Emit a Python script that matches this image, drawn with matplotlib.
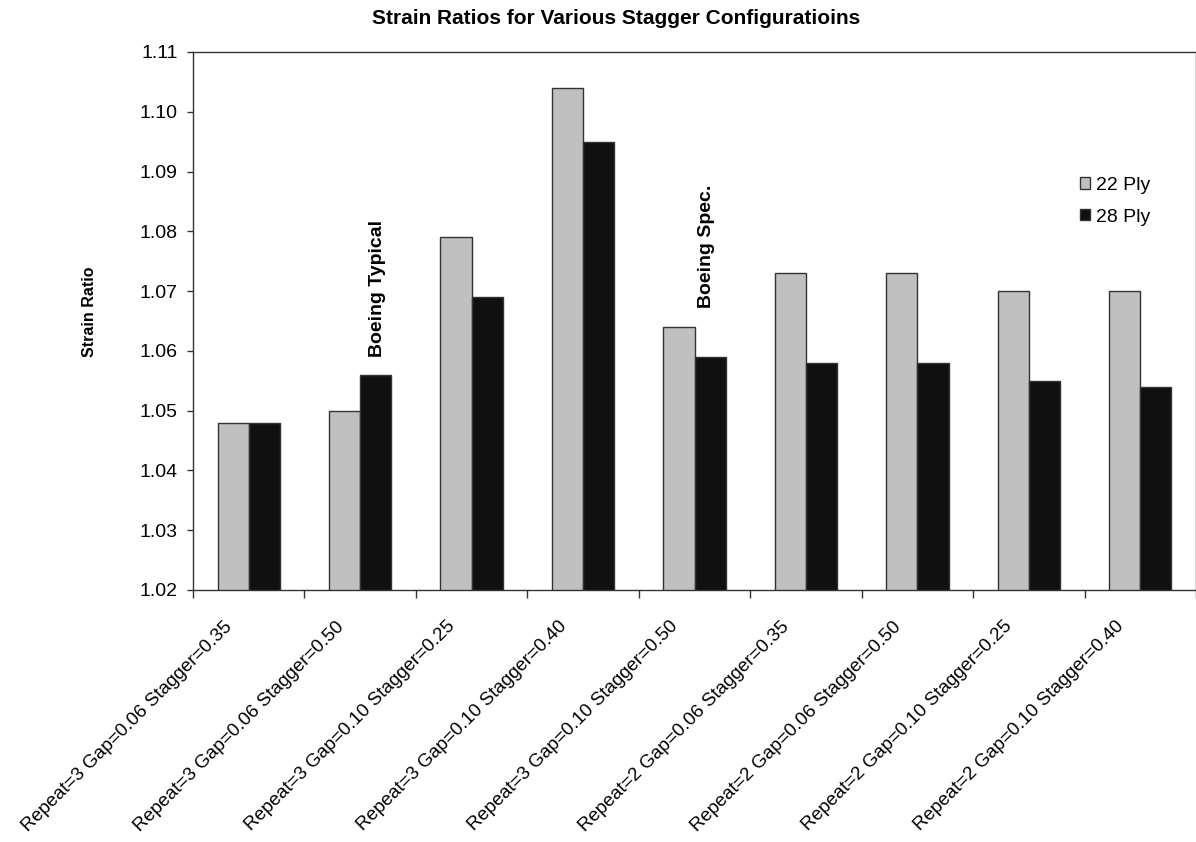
import numpy as np
import matplotlib.pyplot as plt
import matplotlib.transforms as mtransforms
from matplotlib.patches import Patch

plt.rcParams['font.family'] = ['Liberation Sans', 'DejaVu Sans']

configs = [
    'Repeat=3 Gap=0.06 Stagger=0.35',
    'Repeat=3 Gap=0.06 Stagger=0.50',
    'Repeat=3 Gap=0.10 Stagger=0.25',
    'Repeat=3 Gap=0.10 Stagger=0.40',
    'Repeat=3 Gap=0.10 Stagger=0.50',
    'Repeat=2 Gap=0.06 Stagger=0.35',
    'Repeat=2 Gap=0.06 Stagger=0.50',
    'Repeat=2 Gap=0.10 Stagger=0.25',
    'Repeat=2 Gap=0.10 Stagger=0.40',
]
ply22 = [1.048, 1.050, 1.079, 1.104, 1.064, 1.073, 1.073, 1.070, 1.070]
ply28 = [1.048, 1.056, 1.069, 1.095, 1.059, 1.058, 1.058, 1.055, 1.054]
y_ticks = [1.02, 1.03, 1.04, 1.05, 1.06, 1.07, 1.08, 1.09, 1.10, 1.11]

fig = plt.figure(figsize=(11.96, 8.42), dpi=100)
ax = fig.add_axes([193 / 1196, 1 - 590 / 842, 1 - 193 / 1196, (590 - 52) / 842])

x = np.arange(len(configs))
w = 0.28
ax.bar(x - w / 2, ply22, w, bottom=0, color='#c0c0c0', edgecolor='#333333', linewidth=1.0)
ax.bar(x + w / 2, ply28, w, bottom=0, color='#101010', edgecolor='#333333', linewidth=1.0)

ax.set_ylim(1.02, 1.11)
ax.set_xlim(-0.5, len(configs) - 0.5)
ax.set_yticks(y_ticks)
ax.set_yticklabels(['%.2f' % v for v in y_ticks], fontsize=14)

# category labels at bar groups, boundary ticks in between
ax.set_xticks(x)
ax.set_xticklabels(configs, rotation=45, ha='right', va='center',
                   rotation_mode='anchor', fontsize=13.6)
ax.tick_params(axis='x', which='major', length=0, pad=0)
ax.set_xticks(np.arange(len(configs) + 1) - 0.5, minor=True)
ax.tick_params(axis='x', which='minor', length=5.5, width=1.0, color='#333333')
ax.tick_params(axis='y', length=4.5, width=1.0, color='#333333', pad=6.5)
offset = mtransforms.ScaledTranslation(-0.19, -0.34, fig.dpi_scale_trans)
for lbl in ax.get_xticklabels():
    lbl.set_transform(lbl.get_transform() + offset)

for side in ['left', 'top', 'bottom', 'right']:
    ax.spines[side].set_color('#333333')
    ax.spines[side].set_linewidth(1.0)

ax.text(1.16, 1.059, 'Boeing Typical', rotation=90, ha='center', va='bottom',
        fontsize=14, fontweight='bold')
ax.text(4.11, 1.0672, 'Boeing Spec.', rotation=90, ha='center', va='bottom',
        fontsize=14, fontweight='bold')

ax.set_ylabel('Strain Ratio', fontsize=11.5, fontweight='bold')
ax.yaxis.set_label_coords(-0.0957, 0.517)

handles = [Patch(facecolor='#c0c0c0', edgecolor='#333333', label='22 Ply'),
           Patch(facecolor='#101010', edgecolor='#333333', label='28 Ply')]
ax.legend(handles=handles, loc='upper left', bbox_to_anchor=(0.884, 0.768),
          frameon=False, fontsize=14, handlelength=0.52, handleheight=0.52,
          handletextpad=0.3, labelspacing=0.76, borderpad=0, borderaxespad=0)

fig.text(616 / 1196, 1 - 18 / 842, 'Strain Ratios for Various Stagger Configuratioins',
         ha='center', va='center', fontsize=15, fontweight='bold')

fig.savefig('out.png', dpi=100)
